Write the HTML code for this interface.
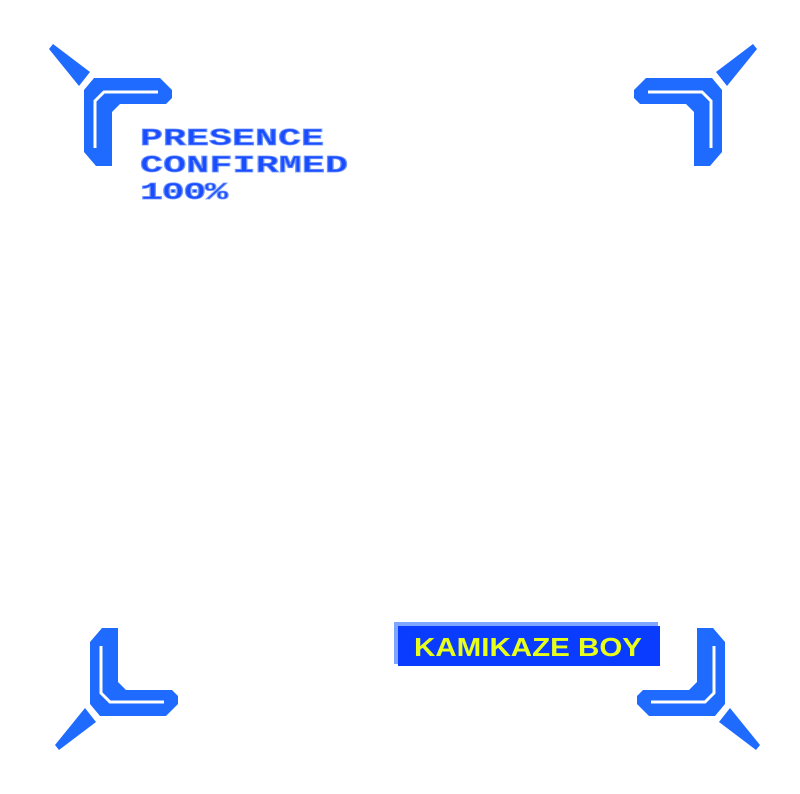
<!DOCTYPE html>
<html><head><style>
html,body{margin:0;padding:0;background:#fff;width:800px;height:794px;overflow:hidden}
</style></head><body>
<svg width="800" height="794" viewBox="0 0 800 794" xmlns="http://www.w3.org/2000/svg">
<defs>
<g id="br">
<polygon points="634,90 646,78 712,78 722,90 722,152 710,166 694,166 694,112 686,104 640,104 634,98" fill="#1f6bff"/>
<polyline points="648,92 702,92 711,101 711,148" fill="none" stroke="#fff" stroke-width="3"/>
<polygon points="716,72 753,44 757,49 727,86" fill="#1f6bff"/>
</g>
</defs>
<use href="#br"/>
<use href="#br" transform="translate(806,0) scale(-1,1)"/>
<use href="#br" transform="translate(812,794) scale(-1,-1)"/>
<use href="#br" transform="translate(3,794) scale(1,-1)"/>
<g font-family="Liberation Mono, monospace" font-weight="bold" font-size="24" fill="#1a4dff" stroke="#6f95ff" stroke-width="0.8">
<text x="140" y="145" transform="translate(140,0) scale(1.6,1) translate(-140,0)" textLength="115">PRESENCE</text>
<text x="140" y="172" transform="translate(140,0) scale(1.6,1) translate(-140,0)" textLength="130">CONFIRMED</text>
<text x="140" y="199" transform="translate(140,0) scale(1.6,1) translate(-140,0)" textLength="55">100%</text>
</g>
<rect x="394" y="622" width="264" height="42" fill="#7fa6ff"/>
<rect x="398" y="626" width="262" height="40" fill="#0a3cff"/>
<text x="528" y="656" text-anchor="middle" font-family="Liberation Sans, sans-serif" font-weight="bold" font-size="26" fill="#e8ff1a" textLength="228" lengthAdjust="spacingAndGlyphs">KAMIKAZE BOY</text>
</svg>
</body></html>
